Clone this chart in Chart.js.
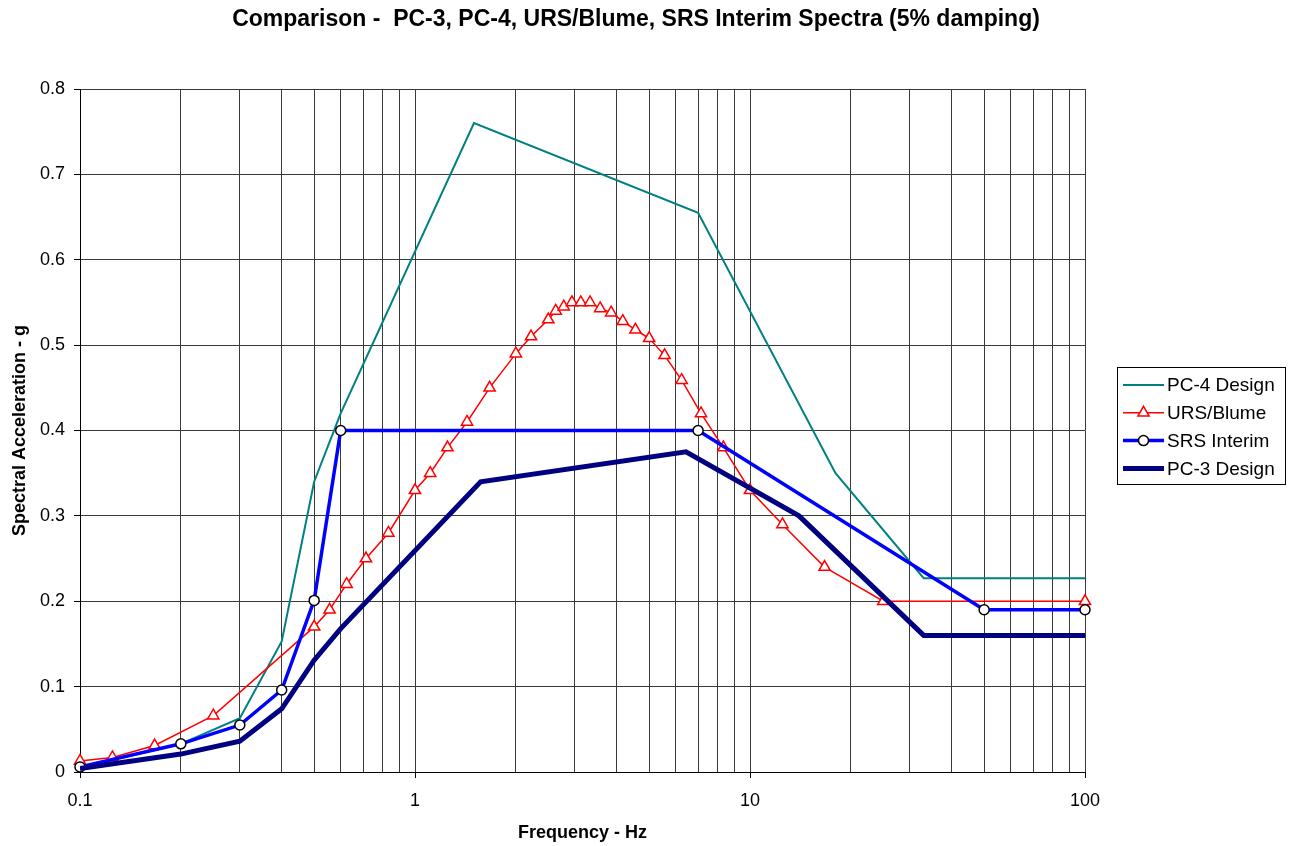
<!DOCTYPE html>
<html>
<head>
<meta charset="utf-8">
<title>Comparison - PC-3, PC-4, URS/Blume, SRS Interim Spectra</title>
<script src="https://cdn.jsdelivr.net/npm/chart.js@4.4.1/dist/chart.umd.min.js"></script>
<style>
  html, body { margin: 0; padding: 0; background: #fff; }
  #wrap { width: 1295px; height: 846px; }
</style>
</head>
<body>
<div id="wrap"><canvas id="chart" width="1295" height="846"></canvas></div>
<script>
/* ── Data ── */
const pc4Freq = [0.1, 0.2, 0.3, 0.4, 0.5, 0.6, 1.5, 7, 18, 33, 100];
const pc4Acc  = [0.005, 0.033, 0.063, 0.153, 0.34, 0.42, 0.76, 0.655, 0.35, 0.227, 0.227];

const ursFreq = [0.1, 0.125, 0.167, 0.25, 0.5, 0.556, 0.625, 0.714, 0.833, 1.0, 1.11, 1.25, 1.43, 1.67,
                 2.0, 2.22, 2.5, 2.63, 2.78, 2.94, 3.125, 3.33, 3.57, 3.85, 4.17, 4.55, 5.0, 5.56, 6.25,
                 7.14, 8.33, 10, 12.5, 16.7, 25, 100];
const ursAcc  = [0.013, 0.017, 0.031, 0.066, 0.17, 0.19, 0.22, 0.25, 0.28, 0.33, 0.35, 0.38, 0.41, 0.45,
                 0.49, 0.51, 0.53, 0.54, 0.545, 0.55, 0.55, 0.55, 0.543, 0.538, 0.528, 0.518, 0.508, 0.488, 0.459,
                 0.42, 0.38, 0.33, 0.29, 0.24, 0.2, 0.2];

const srsFreq = [0.1, 0.2, 0.3, 0.4, 0.5, 0.6, 7, 50, 100];
const srsAcc  = [0.006, 0.033, 0.055, 0.096, 0.201, 0.40, 0.40, 0.19, 0.19];

const pc3Freq = [0.1, 0.2, 0.3, 0.4, 0.5, 0.6, 1.57, 6.44, 14, 33, 100];
const pc3Acc  = [0.004, 0.021, 0.036, 0.074, 0.131, 0.168, 0.34, 0.375, 0.30, 0.16, 0.16];

const xTickValues = [0.1, 1, 10, 100];
const xTickLabels = ["0.1", "1", "10", "100"];
const yTickValues = [0, 0.1, 0.2, 0.3, 0.4, 0.5, 0.6, 0.7, 0.8];
const yTickLabels = ["0", "0.1", "0.2", "0.3", "0.4", "0.5", "0.6", "0.7", "0.8"];

const titleText = "Comparison -  PC-3, PC-4, URS/Blume, SRS Interim Spectra (5% damping)";

const FONT = "'Liberation Sans', Arial, sans-serif";

function pts(xs, ys) { return xs.map((x, i) => ({ x: x, y: ys[i] })); }

// grid lines at 1..9 of every decade
function logGrid() {
  const out = [];
  for (let d = 0; d < xTickValues.length - 1; d++) {
    for (let k = 1; k <= 9; k++) out.push({ value: +(xTickValues[d] * k).toPrecision(6) });
  }
  out.push({ value: xTickValues[xTickValues.length - 1] });
  return out;
}
function xLabelFor(v) {
  const i = xTickValues.findIndex(t => Math.abs(t - v) < t * 1e-6);
  return i >= 0 ? xTickLabels[i] : "";
}

/* ── Title + boxed legend (drawn on the canvas) ── */
const legendItems = [0, 1, 2, 3];
const boxLegend = {
  id: "boxLegend",
  afterDraw(chart) {
    const ctx = chart.ctx;
    ctx.save();

    // title, centred on the whole picture
    ctx.fillStyle = "#000";
    ctx.font = "bold 23px " + FONT;
    ctx.textAlign = "center";
    ctx.textBaseline = "middle";
    ctx.fillText(titleText, 636, 20);

    const bx = 1117.5, by = 367.5, bw = 168, bh = 117;
    ctx.fillStyle = "#fff";
    ctx.fillRect(bx, by, bw, bh);
    ctx.strokeStyle = "#000";
    ctx.lineWidth = 1;
    ctx.strokeRect(bx, by, bw, bh);
    legendItems.forEach((di, row) => {
      const ds = chart.data.datasets[di];
      const y = 385 + row * 27.8;
      ctx.strokeStyle = ds.borderColor;
      ctx.lineWidth = ds.borderWidth;
      ctx.beginPath();
      ctx.moveTo(1123, y);
      ctx.lineTo(1164, y);
      ctx.stroke();
      if (ds.pointRadius > 0) {
        ctx.fillStyle = ds.pointBackgroundColor;
        ctx.strokeStyle = ds.pointBorderColor;
        ctx.lineWidth = ds.pointBorderWidth;
        const r = ds.pointRadius, cx = 1143.5;
        ctx.beginPath();
        if (ds.pointStyle === "triangle") {
          for (let k = 0; k < 3; k++) {
            const a = k * 2 * Math.PI / 3;
            const px = cx + Math.sin(a) * r, py = y - Math.cos(a) * r;
            if (k === 0) ctx.moveTo(px, py); else ctx.lineTo(px, py);
          }
          ctx.closePath();
        } else {
          ctx.arc(cx, y, r, 0, Math.PI * 2);
        }
        ctx.fill();
        ctx.stroke();
      }
      ctx.fillStyle = "#000";
      ctx.font = "19px " + FONT;
      ctx.textBaseline = "middle";
      ctx.textAlign = "left";
      ctx.fillText(ds.label, 1167, y + 1);
    });
    ctx.restore();
  }
};

/* ── Chart ── */
const chart = new Chart(document.getElementById("chart"), {
  type: "line",
  data: {
    datasets: [
      {
        label: "PC-4 Design", data: pts(pc4Freq, pc4Acc), order: 3,
        borderColor: "#008080", borderWidth: 2, pointRadius: 0, tension: 0
      },
      {
        label: "URS/Blume", data: pts(ursFreq, ursAcc), order: 2,
        borderColor: "#ff0000", borderWidth: 1.5, tension: 0,
        pointStyle: "triangle", pointRadius: 6.5, pointBorderWidth: 1.5,
        pointBackgroundColor: "#ffffff", pointBorderColor: "#ff0000", clip: 10
      },
      {
        label: "SRS Interim", data: pts(srsFreq, srsAcc), order: 1,
        borderColor: "#0000ff", borderWidth: 3.5, tension: 0,
        pointStyle: "circle", pointRadius: 5, pointBorderWidth: 1.5,
        pointBackgroundColor: "#ffffff", pointBorderColor: "#000000", clip: 10
      },
      {
        label: "PC-3 Design", data: pts(pc3Freq, pc3Acc), order: 0,
        borderColor: "#000080", borderWidth: 5, pointRadius: 0, tension: 0,
        borderJoinStyle: "miter"
      }
    ]
  },
  options: {
    responsive: false,
    animation: false,
    events: [],
    layout: { padding: { left: 0, right: 210, top: 89, bottom: 0 } },
    plugins: {
      legend: { display: false },
      tooltip: { enabled: false },
      title: { display: false }
    },
    scales: {
      x: {
        type: "logarithmic",
        min: 0.1, max: 100,
        afterBuildTicks: scale => { scale.ticks = logGrid(); },
        afterFit: scale => { scale.height = 74; },
        ticks: {
          autoSkip: false, maxRotation: 0, padding: 12,
          color: "#000", font: { family: FONT, size: 18 },
          callback: v => xLabelFor(v)
        },
        grid: {
          color: "#3a3a3a", lineWidth: 1, tickLength: 6,
          tickColor: c => (xLabelFor(c.tick.value) ? "#000" : "rgba(0,0,0,0)")
        },
        border: { color: "#000", width: 1 },
        title: {
          display: true, text: "Frequency - Hz", color: "#000",
          font: { family: FONT, size: 18, weight: "bold" },
          padding: { top: 0, bottom: 2 }
        }
      },
      y: {
        type: "linear",
        min: 0, max: 0.8,
        afterBuildTicks: scale => { scale.ticks = yTickValues.map(v => ({ value: v })); },
        afterFit: scale => { scale.width = 80; },
        ticks: {
          padding: 9, color: "#000", font: { family: FONT, size: 18 },
          callback: (v, i) => yTickLabels[i]
        },
        grid: { color: "#3a3a3a", lineWidth: 1, tickLength: 6, tickColor: "#000" },
        border: { color: "#000", width: 1 },
        title: {
          display: true, text: "Spectral Acceleration - g", color: "#000",
          font: { family: FONT, size: 18, weight: "bold" },
          padding: { top: 9, bottom: 0 }
        }
      }
    }
  },
  plugins: [boxLegend]
});
</script>
</body>
</html>
